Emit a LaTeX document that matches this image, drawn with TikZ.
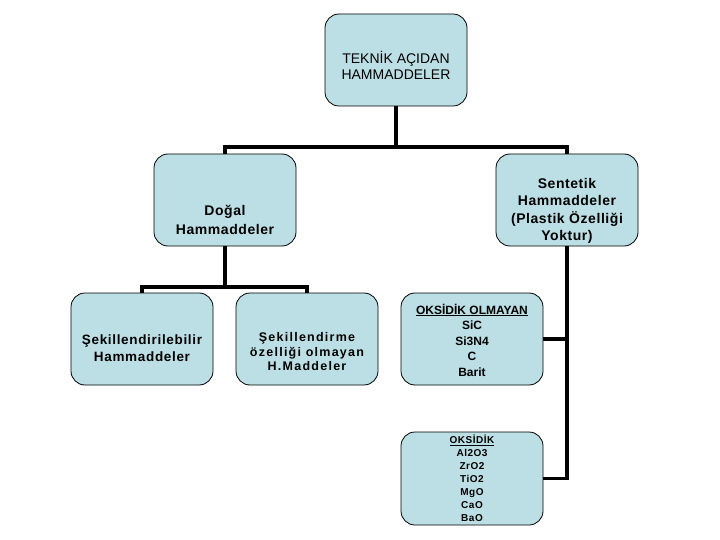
\documentclass[tikz,border=0pt]{standalone}
\usepackage{fontspec}
\setmainfont{Liberation Sans}
\newfontfamily\harfa[LetterSpace=4]{Liberation Sans}
\newfontfamily\harfb[LetterSpace=5]{Liberation Sans}
\newfontfamily\harfc[LetterSpace=10]{Liberation Sans}
\definecolor{kutumavi}{RGB}{187,223,228}

\begin{document}
\begin{tikzpicture}[x=1pt,y=-1pt]%
        \useasboundingbox (0,0) rectangle (720,540);%%
        \tikzstyle{kutu}=[draw,fill=kutumavi,rounded corners=14pt,minimum width=142pt,minimum height=92pt,inner sep=0pt,outer sep=0pt,line width=.8pt] %%
        \tikzstyle{yazi}=[align=center,inner sep=0pt] %%
        \tikzstyle{hat}=[line width=3.2pt] %%
        \node[kutu] (teknik) at (396,60)  {}; %%
        \node[kutu] (dogal) at (225,200)  {}; %%
        \node[kutu] (sentetik) at (567,200)  {}; %%
        \node[kutu] (sekilli) at (142,339)  {}; %%
        \node[kutu] (sekilsiz) at (307,339)  {}; %%
        \node[kutu] (oksitsiz) at (472,339)  {}; %%
        \node[kutu,minimum height=93pt] (oksit) at (472,478.5)  {}; %%
        \node[yazi,font=\fontsize{14}{16}\selectfont] (teknik-y) at ([yshift=-5.5pt]teknik.center) {TEKNİK AÇIDAN\\HAMMADDELER}; %%
        \node[yazi,font=\harfa\bfseries\fontsize{14}{19}\selectfont] (dogal-y) at ([yshift=-19.5pt]dogal.center) {Doğal\\Hammaddeler}; %%
        \node[yazi,font=\harfa\bfseries\fontsize{14}{17.5}\selectfont] (sentetik-y) at ([yshift=-11pt]sentetik.center) {Sentetik\\Hammaddeler\\(Plastik Özelliği\\Yoktur)}; %%
        \node[yazi,font=\harfb\bfseries\fontsize{13.5}{17}\selectfont] (sekilli-y) at ([yshift=-9pt]sekilli.center) {Şekillendirilebilir\\Hammaddeler}; %%
        \node[yazi,font=\harfc\bfseries\fontsize{12.5}{14.5}\selectfont] (sekilsiz-y) at ([yshift=-13pt]sekilsiz.center) {Şekillendirme\\özelliği olmayan\\H.Maddeler}; %%
        \node[yazi,font=\bfseries\fontsize{12}{15.5}\selectfont] (oksitsiz-y) at ([yshift=-1pt]oksitsiz.center) {\underline{OKSİDİK OLMAYAN}\\SiC\\Si3N4\\C\\Barit}; %%
        \node[yazi,font=\harfb\bfseries\fontsize{10}{13}\selectfont] (oksit-y) at (oksit.center) {\underline{OKSİDİK}\\Al2O3\\ZrO2\\TiO2\\MgO\\CaO\\BaO}; %%
        \coordinate (dal1) at (396,147); %%
        \coordinate (dal2) at (225,287); %%
        \coordinate (kose) at (567,478.5); %%
\draw[hat] (teknik)--(dal1); %%
\draw[hat] (dogal) |- (dal1) -| (sentetik); %%
\draw[hat] (dogal)--(dal2); %%
\draw[hat] (sekilli) |- (dal2) -| (sekilsiz); %%
\draw[hat] (sentetik)--(kose)--(oksit); %%
\draw[hat] (oksitsiz)--(oksitsiz -| kose); %%
\end{tikzpicture}
\end{document}
